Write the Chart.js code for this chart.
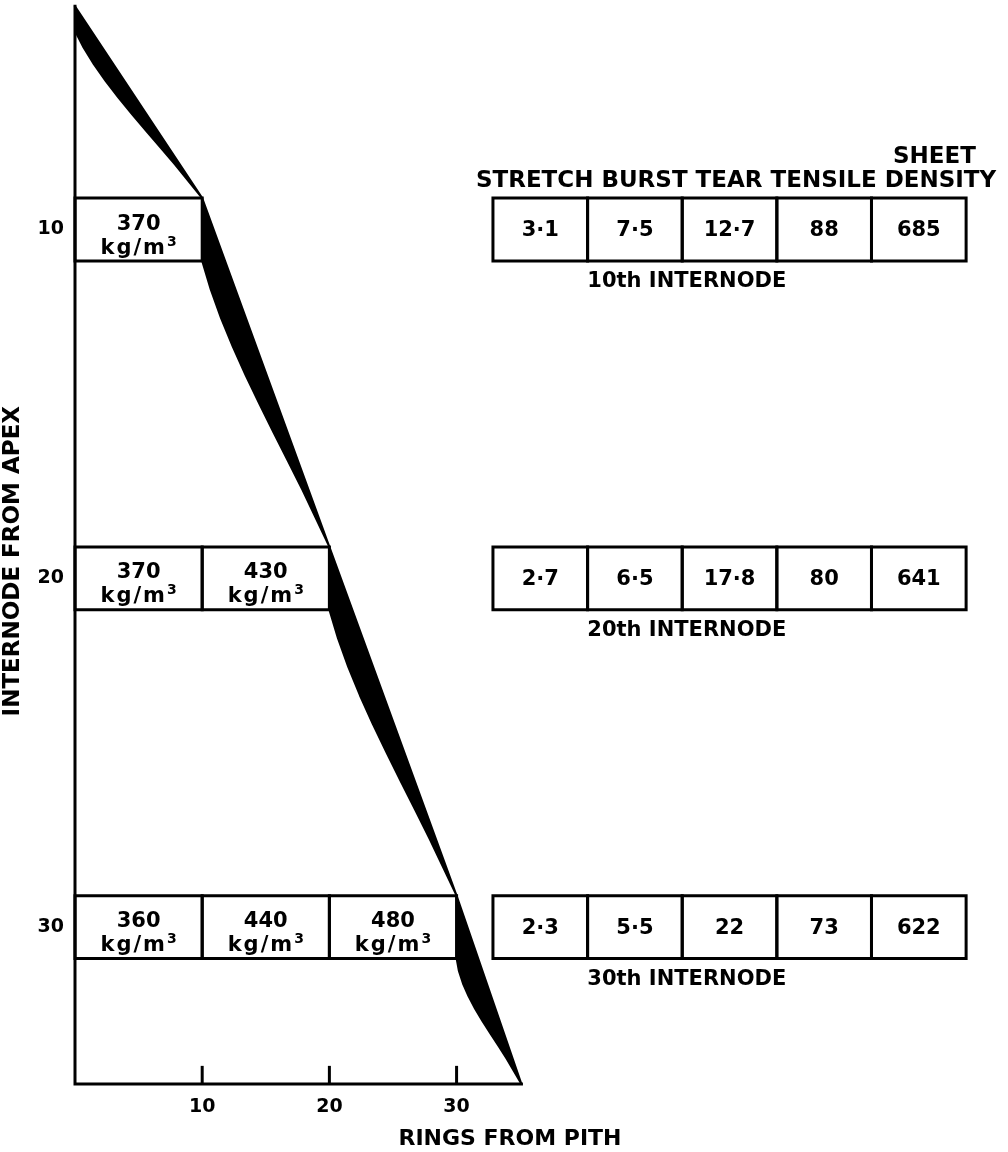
<!DOCTYPE html>
<html>
<head>
<meta charset="utf-8">
<title>Internode from apex</title>
<script src="https://cdn.jsdelivr.net/npm/chart.js"></script>
<style>
  html, body { margin: 0; padding: 0; background: #fff; }
  canvas { display: block; }
</style>
</head>
<body>
<canvas id="myChart" width="1008" height="1152"></canvas>
<script>
// valores
const internodes = [10, 20, 30];
const densities = [[370], [370, 430], [360, 440, 480]]; // kg/m3 por banda de 10 anillos
const properties = ['STRETCH', 'BURST', 'TEAR', 'TENSILE', 'SHEET DENSITY'];
const stretch = [3.1, 2.7, 2.3];
const burst = [7.5, 6.5, 5.5];
const tear = [12.7, 17.8, 22];
const tensile = [88, 80, 73];
const sheetDensity = [685, 641, 622];
const ringTicks = [10, 20, 30];
const internodeTicks = [10, 20, 30];
const ringsPerBand = 10;

// contorno del tallo
const apexInternode = 3.6;
const apexInnerInternode = 4.3;
const baseInternode = 34.5;
const tipRing = 35.1;

// layout (unidades de los ejes)
const BOX_HALF = 0.9;
const WEDGE_BOW = 0.6;
const TABLE_X = 32.86;
const CELL_W = 7.44;
const LABEL_X = 48.1;
const HEADER_X = 31.52;
const TICK_LEN = 0.52;
const FONT = '"DejaVu Sans"';

function line(points, extra) {
  return Object.assign({
    data: points,
    borderColor: '#000',
    backgroundColor: '#000',
    borderWidth: 3,
    pointRadius: 0,
    pointHoverRadius: 0,
    fill: false,
    tension: 0,
    clip: false,
    borderJoinStyle: 'miter',
    borderCapStyle: 'square'
  }, extra || {});
}

function rect(x0, x1, y0, y1) {
  return line([{x: x0, y: y0}, {x: x1, y: y0}, {x: x1, y: y1}, {x: x0, y: y1}, {x: x0, y: y0}]);
}

const datasets = [];

// eje izquierdo + base
datasets.push(line([{x: 0, y: apexInternode}, {x: 0, y: baseInternode}, {x: tipRing, y: baseInternode}]));

// marcas del eje x (hacia arriba)
ringTicks.forEach(t => {
  datasets.push(line([{x: t, y: baseInternode}, {x: t, y: baseInternode - TICK_LEN}], {borderCapStyle: 'butt'}));
});

// cunas negras entre cajas
const starts = [{top: {x: 0, y: apexInternode}, bot: {x: 0, y: apexInnerInternode}}];
const ends = [];
internodes.forEach((n, i) => {
  const r = densities[i].length * ringsPerBand;
  ends.push({x: r, y: n - BOX_HALF});
  starts.push({top: {x: r, y: n - BOX_HALF}, bot: {x: r, y: n + BOX_HALF}});
});
ends.push({x: tipRing, y: baseInternode});
starts.forEach((s, k) => {
  const e = ends[k];
  // el borde interior es algo concavo (maximo a 1/3 del tramo)
  const inner = [];
  for (let t = 0.8; t > 0.1; t -= 0.1) {
    const bow = WEDGE_BOW * t * (1 - t) * (1 - t) * 27 / 4;
    inner.push({
      x: s.bot.x + (e.x - s.bot.x) * t - bow,
      y: s.bot.y + (e.y - s.bot.y) * t
    });
  }
  datasets.push(line([s.top, e, ...inner, s.bot, s.top], {fill: 'shape', borderWidth: 2, borderJoinStyle: 'round'}));
});

// cajas de densidad
internodes.forEach((n, i) => {
  densities[i].forEach((d, j) => {
    datasets.push(rect(j * ringsPerBand, (j + 1) * ringsPerBand, n - BOX_HALF, n + BOX_HALF));
  });
});

// tablas de propiedades
internodes.forEach(n => {
  properties.forEach((p, k) => {
    datasets.push(rect(TABLE_X + k * CELL_W, TABLE_X + (k + 1) * CELL_W, n - BOX_HALF, n + BOX_HALF));
  });
});

const fmt = v => String(v).replace('.', '\u00B7');

function drawUnit(ctx, cx, baseY) {
  // "kg/m" con el 3 como superindice
  ctx.font = 'bold 21px ' + FONT;
  ctx.letterSpacing = '2px';
  const w1 = ctx.measureText('kg/m').width;
  ctx.font = 'bold 14px ' + FONT;
  ctx.letterSpacing = '0px';
  const w2 = ctx.measureText('3').width;
  const x0 = cx - (w1 + w2) / 2;
  ctx.textAlign = 'left';
  ctx.font = 'bold 21px ' + FONT;
  ctx.letterSpacing = '2px';
  ctx.fillText('kg/m', x0, baseY);
  ctx.letterSpacing = '0px';
  ctx.font = 'bold 14px ' + FONT;
  ctx.fillText('3', x0 + w1, baseY - 8);
  ctx.textAlign = 'center';
}

const labelsPlugin = {
  id: 'labelsPlugin',
  afterDatasetsDraw(chart) {
    const {ctx, scales: {x, y}} = chart;
    ctx.save();
    ctx.fillStyle = '#000';
    ctx.textAlign = 'center';

    // texto de densidad en cada banda
    internodes.forEach((n, i) => {
      densities[i].forEach((d, j) => {
        const cx = x.getPixelForValue((j + 0.5) * ringsPerBand);
        const cy = y.getPixelForValue(n);
        ctx.textBaseline = 'alphabetic';
        ctx.font = 'bold 21px ' + FONT;
        ctx.fillText(String(d), cx, cy);
        drawUnit(ctx, cx, cy + 24);
      });
    });

    // valores de las tablas
    const cols = [stretch, burst, tear, tensile, sheetDensity];
    internodes.forEach((n, i) => {
      const cy = y.getPixelForValue(n);
      ctx.textBaseline = 'middle';
      ctx.font = 'bold 21px ' + FONT;
      cols.forEach((vals, k) => {
        ctx.fillText(fmt(vals[i]), x.getPixelForValue(TABLE_X + (k + 0.5) * CELL_W), cy + 1);
      });
      ctx.fillText(n + 'th INTERNODE', x.getPixelForValue(LABEL_X), y.getPixelForValue(n + 1.5));
    });

    // encabezados
    ctx.font = 'bold 23px ' + FONT;
    ctx.textBaseline = 'middle';
    ctx.textAlign = 'left';
    const space = ctx.measureText(' ').width;
    let hx = x.getPixelForValue(HEADER_X);
    const hy = y.getPixelForValue(internodes[0] - 1.39);
    properties.forEach(p => {
      const words = p.split(' ');
      const last = words.pop();
      const w = ctx.measureText(last).width;
      ctx.fillText(last, hx, hy);
      if (words.length) {
        ctx.textAlign = 'center';
        ctx.fillText(words.join(' '), hx + w / 2 - 6, hy - 24);
        ctx.textAlign = 'left';
      }
      hx += w + space;
    });
    ctx.restore();
  }
};

var ctx = document.getElementById('myChart').getContext('2d');
new Chart(ctx, {
  type: 'line',
  data: { datasets: datasets },
  options: {
    responsive: false,
    animation: false,
    events: [],
    layout: { padding: { top: 6.3, right: 63, bottom: 0, left: 0 } },
    plugins: {
      legend: { display: false },
      tooltip: { enabled: false }
    },
    scales: {
      x: {
        type: 'linear',
        min: 0,
        max: 68.4,
        afterBuildTicks: s => { s.ticks = ringTicks.map(v => ({ value: v })); },
        afterFit: s => { s.height = 68; s.paddingLeft = 0; s.paddingRight = 0; },
        grid: { display: false, drawTicks: false },
        border: { display: false },
        ticks: {
          color: '#000',
          autoSkip: false,
          maxRotation: 0,
          padding: 12,
          font: { family: FONT, size: 19, weight: 'bold' }
        },
        title: {
          display: true,
          text: 'RINGS FROM PITH',
          color: '#000',
          padding: 0,
          font: { family: FONT, size: 22, weight: 'bold', lineHeight: 1.2 }
        }
      },
      y: {
        type: 'linear',
        reverse: true,
        min: apexInternode,
        max: baseInternode,
        afterBuildTicks: s => { s.ticks = internodeTicks.map(v => ({ value: v })); },
        afterFit: s => { s.width = 75; s.paddingTop = 0; s.paddingBottom = 0; },
        grid: { display: false, drawTicks: false },
        border: { display: false },
        ticks: {
          color: '#000',
          autoSkip: false,
          padding: 11,
          font: { family: FONT, size: 19, weight: 'bold' }
        },
        title: {
          display: true,
          // espacios finales: bajan el titulo hasta su sitio
          text: 'INTERNODE FROM APEX    ',
          color: '#000',
          padding: 0,
          font: { family: FONT, size: 23, weight: 'bold', lineHeight: 1.1 }
        }
      }
    }
  },
  plugins: [labelsPlugin]
});
</script>
</body>
</html>
